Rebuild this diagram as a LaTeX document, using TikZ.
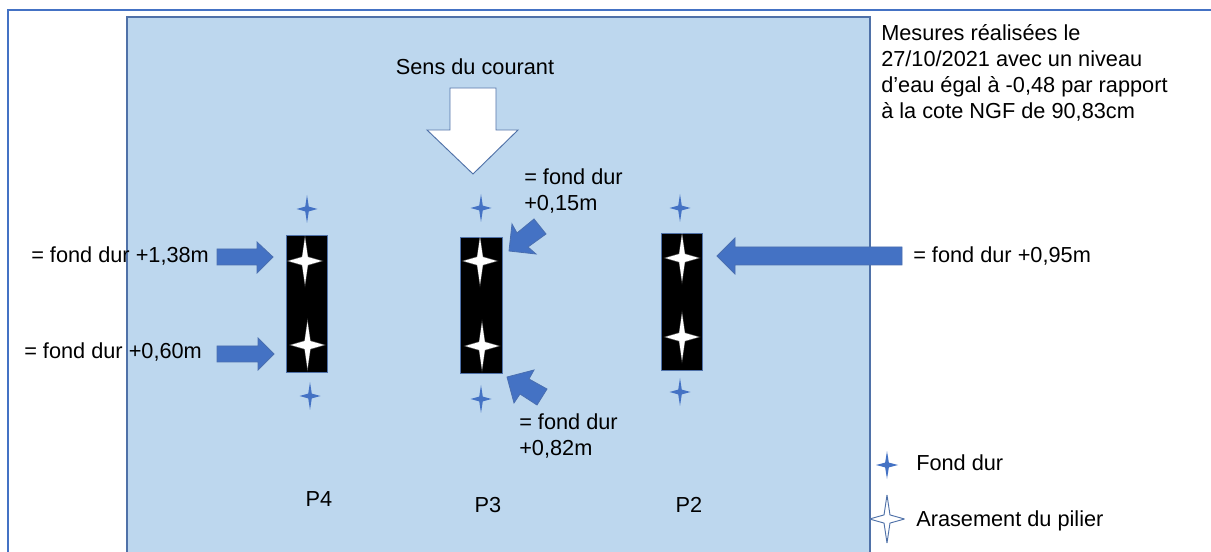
\documentclass[tikz,border=0pt]{standalone}
\usepackage{fontspec}
\setmainfont{Liberation Sans}
\definecolor{water}{HTML}{BDD7EE}
\definecolor{edgeblue}{HTML}{4F71A8}
\definecolor{frameblue}{HTML}{4472C4}
\definecolor{arrowblue}{HTML}{4472C4}
\definecolor{arrowedge}{HTML}{4A6FB0}
\newcommand{\fourstar}[5]{%
  \path[#1,shift={(#2,#3)}] (0,-#5) -- ({0.17*#4},{-0.17*#5}) -- (#4,0) -- ({0.17*#4},{0.17*#5}) -- (0,#5) -- ({-0.17*#4},{0.17*#5}) -- (-#4,0) -- ({-0.17*#4},{-0.17*#5}) -- cycle;}
\newcommand{\pilestar}[2]{%
  \fourstar{fill=white,opacity=.35}{#1}{#2}{18.5}{26.5}%
  \fourstar{fill=white}{#1}{#2}{16.5}{23}}
\tikzset{
  x=0.75pt,y=-0.75pt,
  lbl/.style={inner sep=0pt,anchor=base west,font=\fontsize{16.3}{19.5}\selectfont},
  multilbl/.style={inner sep=0pt,anchor=north west,align=left,font=\fontsize{16.3}{19.5}\selectfont},
  centrelbl/.style={inner sep=0pt,anchor=base,font=\fontsize{16.3}{19.5}\selectfont},
  pier/.style={fill=black,draw=edgeblue,line width=0.6pt},
  bluearrow/.style={fill=arrowblue,draw=arrowedge,line width=0.6pt},
  hardstar/.style={fill=arrowblue},
}
\begin{document}
\begin{tikzpicture}
\useasboundingbox (0,0) rectangle (1211,552);
% frames
\draw[frameblue,line width=1.1pt] (1211,10) -- (8,10) -- (8,552);
\fill[water] (127,17) rectangle (870,552);
\draw[edgeblue,line width=0.9pt] (127,552) -- (127,17) -- (870,17) -- (870,552);
% piers
\path[pier] (286,235) rectangle (327,372);
\path[pier] (460,237) rectangle (502,373);
\path[pier] (661,233) rectangle (702,370);
\pilestar{305}{261}\pilestar{307.5}{345}
\pilestar{480}{261}\pilestar{482}{346}
\pilestar{682}{258}\pilestar{682}{337}
% hard-bottom stars
\fourstar{hardstar}{307}{209}{10.5}{14}
\fourstar{hardstar}{310}{396}{10.5}{14}
\fourstar{hardstar}{481}{208}{10.5}{14}
\fourstar{hardstar}{481}{399}{10.5}{14}
\fourstar{hardstar}{680}{208}{10.5}{14}
\fourstar{hardstar}{680}{392}{10.5}{14}
% current arrow
\path[fill=white,draw=edgeblue,line width=0.7pt] (450,88) -- (496,88) -- (496,130) -- (518,130) -- (473,174) -- (427,130) -- (450,130) -- cycle;
% blue arrows
\path[bluearrow] (217,249) -- (257,249) -- (257,242) -- (273,257) -- (257,273) -- (257,265) -- (217,265) -- cycle;
\path[bluearrow] (217,346) -- (258,346) -- (258,338) -- (274,354) -- (258,370) -- (258,362) -- (217,362) -- cycle;
\path[bluearrow] (902,247) -- (735,247) -- (735,238) -- (717,256) -- (735,274) -- (735,265) -- (902,265) -- cycle;
\path[bluearrow] (534,219) -- (517,233) -- (512,224) -- (509,251) -- (536,254) -- (528,247) -- (546,234) -- cycle;
\path[bluearrow] (547,389) -- (529,379) -- (534,370) -- (507,377) -- (514,403) -- (520,394) -- (537,405) -- cycle;
% texts
\node[centrelbl] (sens) at (475,75) {Sens du courant};
\node[multilbl] (mesures) at (881,24) {Mesures réalisées le\\27/10/2021 avec un niveau\\d’eau égal à -0,48 par rapport\\à la cote NGF de 90,83cm};
\node[lbl] (l138) at (31,263) {= fond dur +1,38m};
\node[lbl] (l060) at (24,359) {= fond dur +0,60m};
\node[lbl] (l095) at (913,263) {= fond dur +0,95m};
\node[multilbl] (l015) at (524,168) {= fond dur\\+0,15m};
\node[multilbl] (l082) at (519,413) {= fond dur\\+0,82m};
\node[centrelbl] (p4) at (319,506) {P4};
\node[centrelbl] (p3) at (488,512) {P3};
\node[centrelbl] (p2) at (689,512) {P2};
% legend
\fourstar{hardstar}{887}{465}{11}{14}
\fourstar{fill=white,draw=edgeblue,line width=0.7pt,miter limit=2}{887}{519}{17.5}{24}
\node[lbl] (legfond) at (916,470) {Fond dur};
\node[lbl] (legaras) at (916,526) {Arasement du pilier};
\end{tikzpicture}
\end{document}
